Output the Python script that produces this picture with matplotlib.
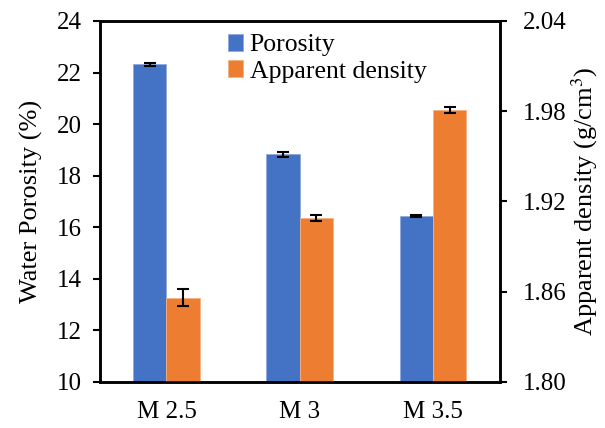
import numpy as np
import matplotlib
matplotlib.use("Agg")
import matplotlib.pyplot as plt
from matplotlib.ticker import FormatStrFormatter

plt.rcParams['font.family'] = ['Liberation Serif', 'DejaVu Serif']
plt.rcParams['mathtext.fontset'] = 'stix'

# data
mixes = ['M 2.5', 'M 3', 'M 3.5']
porosity = [22.32, 18.83, 16.44]
porosity_err = [0.05, 0.10, 0.05]
density = [1.856, 1.909, 1.981]
density_err = [0.0055, 0.002, 0.002]

blue = '#4472C4'
orange = '#ED7D31'
w = 0.25
x = np.arange(len(mixes))

fig = plt.figure(figsize=(6.05, 4.28), dpi=100)
ax1 = fig.add_axes([0.165, 0.1075, 0.661, 0.8435])
ax2 = ax1.twinx()

err_kw = dict(ecolor='black', elinewidth=1.5, capsize=4, capthick=1.5)
b1 = ax1.bar(x - w / 2, porosity, w, yerr=porosity_err, color=blue,
             edgecolor='#8FAADC', linewidth=0.6, error_kw=err_kw, label='Porosity')
b2 = ax2.bar(x + w / 2, density, w, yerr=density_err, color=orange,
             edgecolor='#F4B183', linewidth=0.6, error_kw=err_kw, label='Apparent density')

ax1.set_xlim(-0.5, 2.5)
ax1.set_ylim(10, 24)
ax1.set_yticks(np.arange(10, 25, 2))
ax2.set_ylim(1.80, 2.04)
ax2.set_yticks(np.arange(1.80, 2.041, 0.06))
ax2.yaxis.set_major_formatter(FormatStrFormatter('%.2f'))

ax1.set_xticks(x)
ax1.set_xticklabels(mixes)
ax1.tick_params(axis='x', length=0, labelsize=18, pad=14)
ax1.tick_params(axis='y', direction='out', length=5, width=1.5, labelsize=18, pad=8)
ax2.tick_params(axis='y', direction='out', length=5, width=1.5, labelsize=18, pad=12)

for ax in (ax1, ax2):
    for s in ax.spines.values():
        s.set_linewidth(1.8)

ax1.set_ylabel('Water Porosity (%)', fontsize=19, labelpad=10)
ax2.set_ylabel('Apparent density (g/cm$^3$)', fontsize=19, labelpad=2)

fig.legend(handles=[b1, b2], loc='upper left', bbox_to_anchor=(0.347, 0.962),
           frameon=False, fontsize=18.5, handlelength=0.6, handleheight=0.6,
           handletextpad=0.25, labelspacing=0.15, borderpad=0.2)

fig.savefig('out.png', dpi=100)
